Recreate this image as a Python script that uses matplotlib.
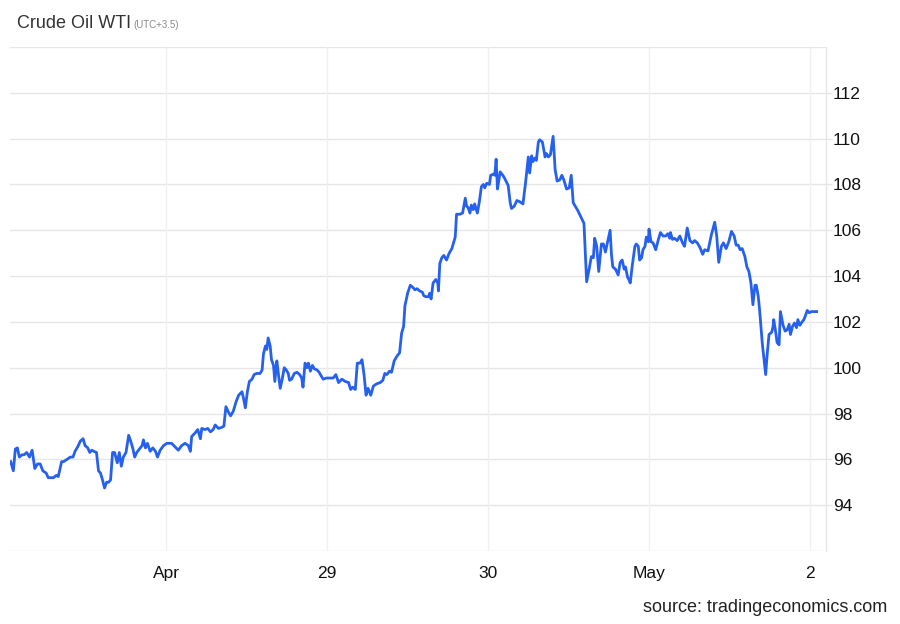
import matplotlib

matplotlib.use("Agg")

import matplotlib.pyplot as plt

plt.rcParams["font.family"] = ["Liberation Sans", "DejaVu Sans"]

# hours since Apr 27 00:00 (UTC+3.5) and WTI price
hours = [
    0.8, 1.2, 1.5, 1.8, 2.1, 2.5, 2.8, 3.2, 3.6, 4.0, 4.4, 4.8, 5.2, 5.6, 6.1, 6.4,
    6.8, 7.2, 7.6, 7.9, 8.4, 8.7, 9.2, 9.7, 10.1, 10.4, 10.8, 11.2, 11.6, 11.9, 12.3,
    12.6, 12.9, 13.2, 13.6, 13.9, 14.2, 14.5, 14.8, 15.1, 15.4, 15.7, 16.0, 16.3,
    16.7, 17.0, 17.3, 17.6, 18.0, 18.4, 18.7, 19.0, 19.3, 19.6, 20.0, 20.4, 20.6,
    20.9, 21.2, 21.6, 22.0, 22.4, 22.7, 23.1, 23.6, 24.1, 24.8, 25.3, 25.8, 26.3,
    26.8, 27.3, 27.6, 27.8, 28.3, 28.7, 29.1, 29.3, 29.8, 30.2, 30.6, 31.0, 31.3,
    31.8, 32.3, 32.6, 32.9, 33.3, 33.6, 34.0, 34.4, 34.8, 35.3, 35.5, 35.8, 36.1,
    36.4, 36.8, 37.1, 37.5, 38.0, 38.3, 38.5, 38.8, 39.0, 39.2, 39.5, 39.7, 40.0,
    40.2, 40.5, 40.7, 41.0, 41.3, 41.6, 41.9, 42.2, 42.4, 42.7, 43.1, 43.5, 43.9,
    44.2, 44.4, 44.7, 45.0, 45.2, 45.5, 45.8, 46.1, 46.5, 46.8, 47.4, 47.9, 48.9,
    49.3, 49.7, 50.2, 50.7, 51.2, 51.5, 51.8, 52.2, 52.5, 52.9, 53.2, 53.5, 53.8,
    54.1, 54.5, 54.9, 55.4, 55.9, 56.3, 56.6, 56.9, 57.3, 57.6, 58.0, 58.4, 58.8,
    59.1, 59.4, 59.6, 60.0, 60.4, 60.8, 61.1, 61.4, 61.8, 62.2, 62.4, 62.7, 63.1,
    63.3, 63.5, 63.8, 64.2, 64.5, 64.6, 64.8, 65.1, 65.4, 65.8, 66.2, 66.6, 67.1,
    67.3, 67.8, 68.2, 68.6, 68.8, 69.0, 69.3, 69.5, 69.8, 70.0, 70.4, 70.7, 71.0,
    71.3, 71.5, 71.8, 72.2, 72.4, 72.8, 73.0, 73.2, 73.4, 73.8, 74.2, 74.5, 75.0,
    75.3, 75.5, 75.9, 76.3, 76.7, 77.2, 77.6, 78.0, 78.2, 78.5, 78.7, 79.0, 79.2,
    79.5, 79.7, 80.1, 80.5, 80.7, 81.0, 81.3, 81.7, 82.0, 82.3, 82.7, 83.0, 83.3,
    83.7, 84.1, 84.4, 84.7, 85.1, 85.4, 85.9, 86.3, 86.5, 86.7, 87.1, 87.4, 87.7,
    87.9, 88.2, 88.5, 88.9, 89.2, 89.5, 89.8, 90.2, 90.4, 90.6, 91.0, 91.4, 91.7,
    92.0, 92.3, 92.5, 92.8, 93.0, 93.2, 93.5, 93.9, 94.1, 94.4, 94.6, 94.9, 95.1,
    95.4, 95.6, 95.9, 96.0, 96.3, 96.6, 97.0, 97.4, 97.7, 98.1, 98.5, 98.8, 99.1,
    99.2, 99.5, 99.8, 100.2, 100.6, 101.0, 101.3, 101.7, 102.1, 102.5, 102.8, 103.2,
    103.6, 104.0, 104.3, 104.8, 105.3, 105.8, 106.1, 106.4, 106.8, 107.1, 107.5,
    107.9, 108.3, 108.7, 109.0, 109.3, 109.6, 109.9, 110.3, 110.6, 110.9, 111.2,
    111.5, 111.8, 112.0, 112.3, 112.5, 112.9, 113.4, 113.6, 113.9, 114.3, 114.5,
    114.6, 114.9, 115.1, 115.4, 115.6, 116.0, 116.3, 116.6, 116.9, 117.1, 117.4,
    117.7, 118.0, 118.2, 118.5, 118.7, 119.1, 119.3, 119.6, 119.9, 120.2, 120.7, 121.0,
]
prices = [
    95.9, 95.5, 96.45, 96.5, 96.1, 96.2, 96.2, 96.3, 96.1, 96.4, 95.6, 95.8, 95.8,
    95.5, 95.4, 95.2, 95.2, 95.2, 95.3, 95.25, 95.9, 95.9, 96.0, 96.1, 96.1, 96.35,
    96.55, 96.8, 96.9, 96.6, 96.5, 96.3, 96.4, 96.35, 96.3, 95.5, 95.4, 95.1, 94.75,
    95.0, 95.0, 95.1, 96.3, 96.3, 95.85, 96.3, 95.7, 96.1, 96.3, 97.05, 96.8, 96.5,
    96.1, 96.3, 96.45, 96.6, 96.85, 96.5, 96.7, 96.35, 96.5, 96.35, 96.1, 96.4,
    96.6, 96.7, 96.7, 96.55, 96.4, 96.6, 96.7, 96.6, 96.35, 97.0, 97.15, 97.3, 96.9,
    97.35, 97.3, 97.35, 97.2, 97.3, 97.5, 97.35, 97.4, 97.45, 98.3, 98.05, 97.9,
    98.1, 98.5, 98.8, 98.95, 98.7, 98.25, 98.95, 99.4, 99.5, 99.7, 99.75, 99.75,
    99.9, 100.6, 100.95, 100.8, 101.3, 100.95, 100.35, 100.1, 99.4, 100.3, 99.8,
    99.1, 99.5, 100.0, 99.9, 99.75, 99.45, 99.5, 99.75, 99.8, 99.7, 99.55, 99.15,
    100.2, 100.0, 100.2, 99.85, 100.1, 99.95, 99.9, 99.8, 99.5, 99.55, 99.55, 99.7,
    99.35, 99.5, 99.4, 99.35, 99.05, 99.15, 99.05, 100.2, 100.2, 100.35, 99.7, 98.8,
    99.1, 98.8, 99.2, 99.3, 99.35, 99.45, 99.75, 99.7, 99.85, 99.8, 100.3, 100.5,
    100.65, 101.5, 101.8, 102.7, 103.25, 103.6, 103.5, 103.4, 103.45, 103.35,
    103.3, 103.15, 103.1, 103.1, 103.25, 103.0, 103.7, 103.85, 103.7, 103.35,
    104.55, 104.8, 104.9, 104.7, 105.0, 105.2, 105.7, 106.7, 106.7, 106.75, 107.4,
    107.05, 107.0, 106.75, 107.1, 106.9, 107.15, 106.75, 107.25, 107.9, 108.0,
    107.85, 108.05, 108.0, 108.4, 108.45, 108.4, 109.1, 107.8, 108.55, 108.4,
    108.25, 107.95, 107.2, 106.95, 107.05, 107.3, 107.25, 107.15, 108.1, 109.2,
    108.5, 109.25, 109.0, 109.15, 109.05, 109.85, 109.95, 109.85, 109.2, 109.35,
    109.2, 109.3, 110.1, 108.65, 108.15, 108.2, 108.4, 108.2, 107.8, 107.85, 108.4,
    107.2, 107.0, 106.85, 106.55, 106.3, 105.0, 103.75, 104.35, 104.85, 104.8,
    105.65, 105.3, 104.2, 105.4, 105.4, 105.05, 105.45, 106.0, 104.95, 104.4, 104.3,
    104.05, 104.6, 104.7, 104.3, 104.4, 103.95, 103.85, 103.7, 104.45, 105.3, 105.4,
    105.3, 104.7, 104.8, 105.15, 105.3, 105.7, 105.5, 106.05, 105.5, 105.45, 105.15,
    105.6, 105.9, 105.75, 105.75, 105.85, 105.65, 105.9, 105.6, 105.65, 105.55,
    105.75, 105.45, 105.3, 106.1, 105.55, 105.45, 105.55, 105.45, 105.25, 104.95,
    105.15, 105.1, 105.8, 106.35, 105.75, 104.6, 105.3, 105.45, 105.2, 105.5,
    105.95, 105.75, 105.35, 105.35, 105.15, 105.2, 104.85, 104.4, 104.2, 103.7,
    102.75, 103.6, 103.6, 103.1, 102.5, 101.05, 99.7, 100.5, 101.45, 101.55, 101.8,
    102.1, 101.55, 101.1, 101.0, 102.45, 101.85, 101.6, 101.65, 101.9, 101.45,
    101.8, 101.95, 101.75, 102.1, 101.85, 101.95, 102.1, 102.25, 102.5, 102.4,
    102.45, 102.45, 102.45,
]

x_tick_hours = [24, 48, 72, 96, 120]
x_tick_labels = ["Apr", "29", "30", "May", "2"]
y_ticks = [94, 96, 98, 100, 102, 104, 106, 108, 110, 112]

GRID = "#e6e6e6"

fig = plt.figure(figsize=(9, 6.24), dpi=100)
ax = fig.add_axes([0.0111, 0.117, 0.9067, 0.8077])

ax.plot(hours, prices, color="#2660ee", linewidth=2.0, solid_joinstyle="round")

ax.set_xlim(0.7, 122.4)
ax.set_ylim(92, 114)

ax.set_xticks(x_tick_hours)
ax.set_xticklabels(x_tick_labels)
ax.set_yticks(y_ticks)
ax.yaxis.tick_right()

for y in range(92, 115, 2):
    ax.axhline(y, color=GRID, linewidth=1, zorder=0)
for x in x_tick_hours:
    ax.axvline(x, color="#f0f0f0", linewidth=1, zorder=0)

for side in ["left", "top", "bottom"]:
    ax.spines[side].set_visible(False)
ax.spines["right"].set_color(GRID)
ax.spines["right"].set_linewidth(1)

ax.tick_params(axis="x", length=0, pad=11, labelsize=12.5, colors="#111111")
ax.tick_params(axis="y", length=4, width=1, color=GRID, pad=1, labelsize=12.5,
               labelcolor="#111111")

fig.text(17 / 900, 1 - 23 / 624, "Crude Oil WTI", fontsize=13, color="#333333",
         va="center", ha="left")
fig.text(133 / 900, 1 - 25 / 624, "(UTC+3.5)", fontsize=7, color="#888888",
         va="center", ha="left")
fig.text(887 / 900, 1 - 608 / 624, "source: tradingeconomics.com", fontsize=13,
         color="#222222", va="center", ha="right")

fig.savefig("out.png", dpi=100)
